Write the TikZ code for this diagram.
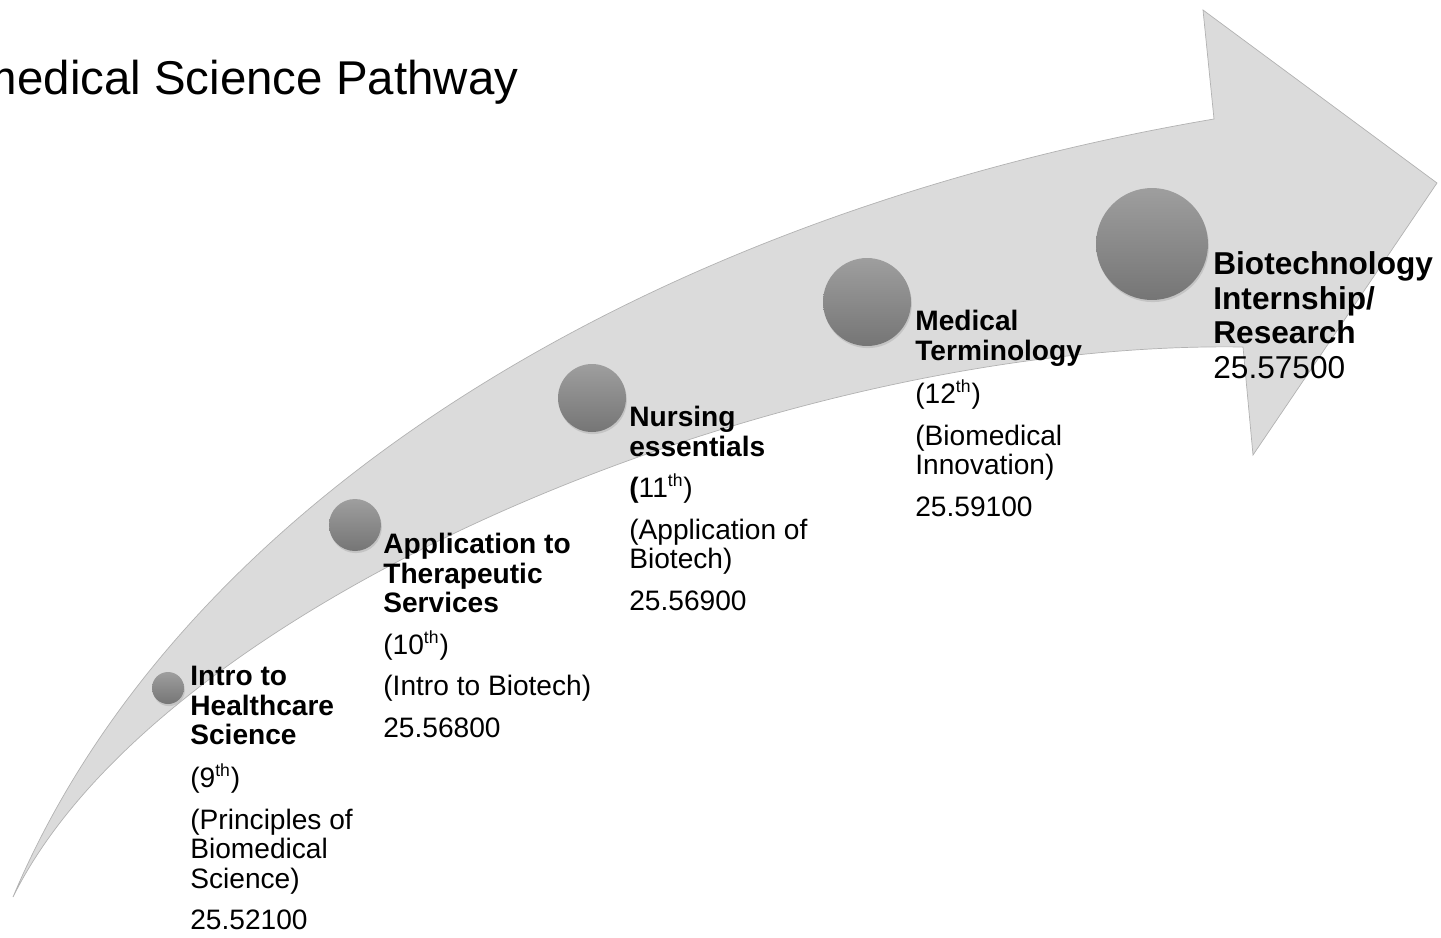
\documentclass[tikz,border=0pt]{standalone}
\usepackage{fontspec}
\setmainfont{Liberation Sans}
\usetikzlibrary{shadows}
\newcommand{\ordsup}[1]{\textsuperscript{\fontsize{10}{10}\selectfont #1}}
\tikzset{
    band/.style = {fill=black!14, draw=black!30, line width=0.4pt},
    dot/.style = {circle, inner sep=0pt, shading=axis,
        top color=black!38, bottom color=black!54,
        drop shadow={opacity=0.25, shadow xshift=0.5pt, shadow yshift=-1.2pt}},
    course/.style = {anchor=north west, inner sep=0pt, align=left,
        font=\fontsize{16}{16.7}\selectfont},
    bigcourse/.style = {course, font=\fontsize{18}{19.8}\selectfont},
}

\begin{document}
\begin{tikzpicture}[x=0.02cm, y=-0.02cm]
    \useasboundingbox (0,0) rectangle (1441,937);
    \clip (0,0) rectangle (1441,937);
    % curved arrow
    \path[band] (13,897) .. controls (180,500) and (650,215) .. (1214,119)
        -- (1203,10) -- (1437,183) -- (1253,455) -- (1243,347)
        .. controls (780,340) and (160,600) .. (13,897) -- cycle;
    \node[anchor=base west, font=\fontsize{27}{30}\selectfont] (title) at (-97,94) {Biomedical Science Pathway};
    % steps
    \node[dot, minimum size=0.64cm] (c1) at (168,688) {};
    \node[dot, minimum size=1.04cm] (c2) at (355,525) {};
    \node[dot, minimum size=1.36cm] (c3) at (592,398) {};
    \node[dot, minimum size=1.76cm] (c4) at (867,302) {};
    \node[dot, minimum size=2.24cm] (c5) at (1152,244) {};
    \node[course] (intro) at (190,666) {\textbf{Intro to}\\\textbf{Healthcare}\\\textbf{Science}\\[8pt](9\ordsup{th})\\[7pt](Principles of\\Biomedical\\Science)\\[7pt]25.52100};
    \node[course] (therapy) at (383,533) {\textbf{Application to}\\\textbf{Therapeutic}\\\textbf{Services}\\[7pt](10\ordsup{th})\\[7pt](Intro to Biotech)\\[7pt]25.56800};
    \node[course] (nursing) at (629,406) {\textbf{Nursing}\\\textbf{essentials}\\[7pt]\textbf{(}11\ordsup{th})\\[7pt](Application of\\Biotech)\\[7pt]25.56900};
    \node[course] (terms) at (915,310) {\textbf{Medical}\\\textbf{Terminology}\\[7pt](12\ordsup{th})\\[7pt](Biomedical\\Innovation)\\[7pt]25.59100};
    \node[bigcourse] (intern) at (1213,251) {\textbf{Biotechnology}\\\textbf{Internship/}\\\textbf{Research}\\25.57500};
\end{tikzpicture}
\end{document}
